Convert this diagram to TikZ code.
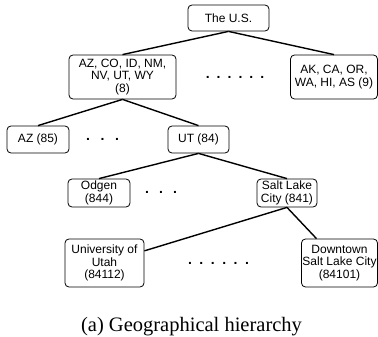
\documentclass[tikz,border=0pt]{standalone}
\usepackage{fontspec}
\setmainfont{Liberation Serif}
\setsansfont{Liberation Sans}
\usepackage{tikz}
\usetikzlibrary{positioning}

\begin{document}
\begin{tikzpicture}[x=1pt ,y=1pt ,on grid ,level/.style ={ rectangle ,rounded corners =4pt ,draw ,line width =0.8pt ,align =center ,inner sep =1pt ,font =\sffamily\fontsize{12}{12.5}\selectfont}, gapdots/.style ={ inner sep =0pt ,font =\sffamily\bfseries\fontsize{14}{14}\selectfont}, link/.style ={ line width =1.4pt}]
\useasboundingbox (0,0) rectangle (378,-337);
\node[level, minimum width=81pt, minimum height=26pt] (us) at (228.5,-18) {The U.S.};
\node[level, minimum width=107pt, minimum height=44pt] (west) [below left = 59pt and 106pt of us] {AZ, CO, ID, NM,\\NV, UT, WY\\(8)};
\node[level, minimum width=87pt, minimum height=44pt] (pac) [below right = 59pt and 105.5pt of us] {AK, CA, OR,\\WA, HI, AS (9)};
\node[level, minimum width=62pt, minimum height=27pt] (az) [below left = 62.5pt and 84.5pt of west] {AZ (85)};
\node[level, minimum width=61pt, minimum height=27pt] (ut) [below right = 62.5pt and 76pt of west] {UT (84)};
\node[level, minimum width=62pt, minimum height=28pt] (ogden) [below left = 53.5pt and 99.5pt of ut] {Odgen\\(844)};
\node[level, minimum width=60pt, minimum height=28pt] (slc) [below right = 53.5pt and 88.5pt of ut] {Salt Lake\\City (841)};
\node[level, minimum width=79pt, minimum height=48pt] (uofu) [below left = 70pt and 182.5pt of slc] {University of\\Utah\\(84112)};
\node[level, minimum width=76pt, minimum height=48pt] (dslc) [below right = 70pt and 52.5pt of slc] {Downtown\\Salt Lake City\\(84101)};
% the dots between siblings
\node[gapdots] (gap1) at (235,-77) {.\hspace{7pt}.\hspace{7pt}.\hspace{7pt}.\hspace{7pt}.\hspace{7pt}.};
\node[gapdots] (gap2) at (102.5,-139) {.\hspace{10.6pt}.\hspace{10.6pt}.};
\node[gapdots] (gap3) at (161,-192) {.\hspace{10.1pt}.\hspace{10.1pt}.};
\node[gapdots] (gap4) at (218.5,-263) {.\hspace{7.5pt}.\hspace{7.5pt}.\hspace{7.5pt}.\hspace{7.5pt}.\hspace{7.5pt}.};
\path[link] (us.south) edge (west.north);
\path[link] (us.south) edge (pac.north);
\path[link] (west.south) edge (az.north);
\path[link] (west.south) edge (ut.north);
\path[link] (ut.south) edge (ogden.north);
\path[link] (ut.south) edge (slc.north);
\path[link] (slc.south) edge (uofu);
\path[link] (slc.south) edge (dslc);
\node[anchor=base, font=\fontsize{20.5}{24}\selectfont] (caption) at (191.5,-331.7) {(a) Geographical hierarchy};
\end{tikzpicture}
\end{document}
